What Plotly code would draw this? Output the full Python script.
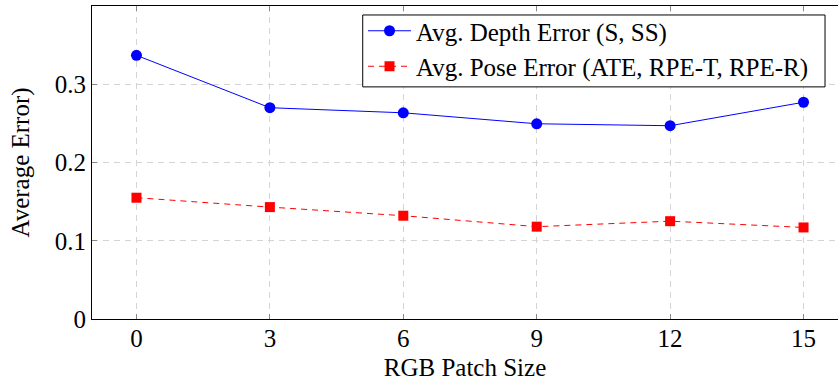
import plotly.graph_objects as go

patch_sizes = [0, 3, 6, 9, 12, 15]
depth_error = [0.337, 0.270, 0.2635, 0.2495, 0.247, 0.277]
pose_error = [0.155, 0.143, 0.132, 0.118, 0.125, 0.117]
x_ticks = [0, 3, 6, 9, 12, 15]
y_ticks = [0, 0.1, 0.2, 0.3]
y_tick_labels = ["0", "0.1", "0.2", "0.3"]

FONT = "Liberation Serif, Times New Roman, serif"

fig = go.Figure()
fig.add_trace(go.Scatter(
    x=patch_sizes, y=depth_error, mode="lines+markers",
    name="Avg. Depth Error (S, SS)",
    line=dict(color="#0000ff", width=1),
    marker=dict(symbol="circle", size=11, color="#0000ff"),
))
fig.add_trace(go.Scatter(
    x=patch_sizes, y=pose_error, mode="lines+markers",
    name="Avg. Pose Error (ATE, RPE-T, RPE-R)",
    line=dict(color="#ff0000", width=1, dash="6px,5px"),
    marker=dict(symbol="square", size=10, color="#ff0000"),
))

# legend frame (white box with black border)
fig.add_shape(
    type="rect", xref="paper", yref="paper",
    x0=0.3629, x1=0.9826, y0=0.7416, y1=0.9713,
    fillcolor="white", line=dict(color="black", width=1), layer="above",
)

fig.update_layout(
    width=838, height=384,
    margin=dict(l=92, r=0, t=6, b=64.5, pad=0),
    paper_bgcolor="white", plot_bgcolor="white",
    font=dict(family=FONT, size=24, color="black"),
    showlegend=True,
    legend=dict(
        x=0.3633, xanchor="left", y=0.9936, yanchor="top",
        bgcolor="rgba(0,0,0,0)", borderwidth=0,
        font=dict(family=FONT, size=25, color="black"),
        itemwidth=43, tracegroupgap=0,
    ),
)
fig.update_xaxes(
    range=[-1, 15.775],
    tickvals=x_ticks, ticktext=[str(v) for v in x_ticks],
    showgrid=True, gridcolor="#d4d4d4", griddash="6px,5px", gridwidth=1,
    showline=True, linecolor="black", linewidth=1, mirror="ticks",
    ticks="inside", ticklen=5, tickcolor="#888888",
    zeroline=False, automargin=False,
    ticklabelstandoff=-3,
    title=dict(text="RGB Patch Size", standoff=7, font=dict(family=FONT, size=25)),
    tickfont=dict(family=FONT, size=25),
)
fig.update_yaxes(
    range=[0, 0.4],
    tickvals=y_ticks, ticktext=y_tick_labels,
    showgrid=True, gridcolor="#d4d4d4", griddash="6px,5px", gridwidth=1,
    showline=True, linecolor="black", linewidth=1, mirror=False,
    ticks="inside", ticklen=5, tickcolor="#888888",
    zeroline=False, automargin=False,
    ticklabelstandoff=0,
    title=dict(text="Average Error)", standoff=18, font=dict(family=FONT, size=25)),
    tickfont=dict(family=FONT, size=25),
)

fig.write_html(
    "out.html",
    config={"displayModeBar": False},
    post_script="document.body.style.margin='0';document.body.style.overflow='hidden';",
)
